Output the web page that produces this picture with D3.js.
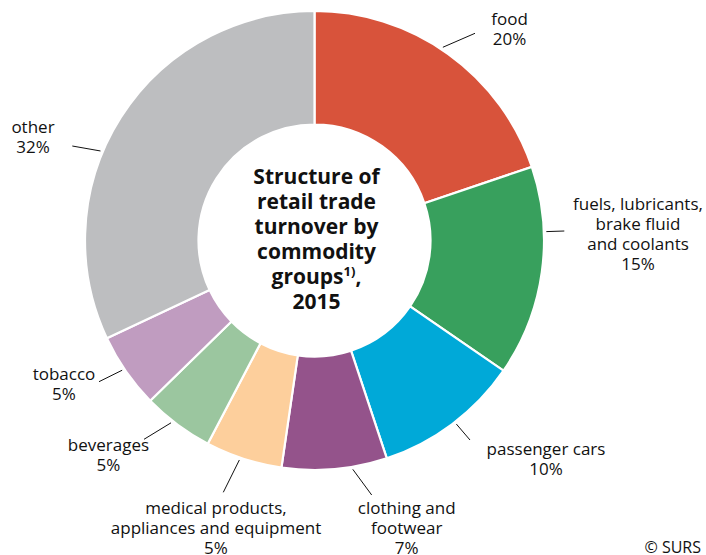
<!DOCTYPE html>
<html><head><meta charset="utf-8">
<script src="https://cdn.jsdelivr.net/npm/d3@7"></script>
<style>
html,body{margin:0;padding:0;background:#fff;}
svg{display:block;}
text{font-family:"Open Sans",sans-serif;fill:#111;}
</style></head>
<body><svg id="chart" width="706" height="555"></svg>
<script>
// ---- data ----
const categories = ["food","fuels, lubricants, brake fluid and coolants","passenger cars","clothing and footwear","medical products, appliances and equipment","beverages","tobacco","other"];
const labelLines = [["food"],["fuels, lubricants,","brake fluid","and coolants"],["passenger cars"],["clothing and","footwear"],["medical products,","appliances and equipment"],["beverages"],["tobacco"],["other"]];
const values = [19.8,14.8,10.3,7.4,5.4,5.0,5.3,32.0];
const colors = ["#D8533B","#38A05D","#00A9D8","#94538B","#FDCF9C","#9BC69F","#C09CC0","#BDBEC0"];
const titleLines = ["Structure of","retail trade","turnover by","commodity","groups","2015"];
const source = "© SURS";

// ---- layout ----
const cx = 314.5, cy = 240.5, R = 229.5, r0 = 116;
// leader: angle (deg, clockwise from top) on the ring, end point; label: centre x, first baseline
const leaderAngle = [33.6,87.8,142.3,170.5,198.9,218.2,236,292.7];
const leaderEnd = [[475,33.3],[564.3,231],[470,440],[371.7,495],[223.3,492.3],[144,439.3],[99,381.7],[72.3,146]];
const labelAnchor = [[509.5,25],[638,209.5],[546,455],[406.7,513.5],[216,513.5],[108.5,450.5],[64,379.5],[33,133]];
const lineH = 20;

const svg = d3.select("#chart");
const g = svg.append("g").attr("transform",`translate(${cx},${cy})`);

const pie = d3.pie().sort(null).value(d=>d)(values);
const arc = d3.arc().innerRadius(r0).outerRadius(R);
g.selectAll("path.slice").data(pie).join("path")
  .attr("class","slice")
  .attr("d",arc)
  .attr("fill",(d,i)=>colors[i])
  .attr("stroke","#fff").attr("stroke-width",2.2);

// leader lines
const rad = Math.PI/180;
svg.selectAll("line.leader").data(leaderAngle).join("line")
  .attr("class","leader")
  .attr("x1",a=>cx+(R+2.5)*Math.sin(a*rad))
  .attr("y1",a=>cy-(R+2.5)*Math.cos(a*rad))
  .attr("x2",(a,i)=>leaderEnd[i][0])
  .attr("y2",(a,i)=>leaderEnd[i][1])
  .attr("stroke","#111").attr("stroke-width",1);

// labels
labelLines.forEach((lines,i)=>{
  const t = svg.append("text").attr("text-anchor","middle").attr("font-size",17);
  const all = lines.concat([Math.round(values[i])+"%"]);
  all.forEach((s,k)=>{
    t.append("tspan").attr("x",labelAnchor[i][0]).attr("y",labelAnchor[i][1]+k*lineH).text(s);
  });
});

// title
const tt = svg.append("text").attr("text-anchor","middle").attr("font-size",21).attr("font-weight","bold");
titleLines.forEach((s,k)=>{
  const ts = tt.append("tspan").attr("x",cx+2).attr("y",183.5+k*25.1).text(s);
  if(s==="groups"){
    tt.append("tspan").attr("font-size",13).attr("dy",-8).text("1)");
    tt.append("tspan").attr("dy",8).text(",");
  }
});
// adjust groups line centering: rebuild as one line
svg.append("text").attr("x",701).attr("y",553).attr("text-anchor","end").attr("font-size",16).text(source);
</script></body></html>
